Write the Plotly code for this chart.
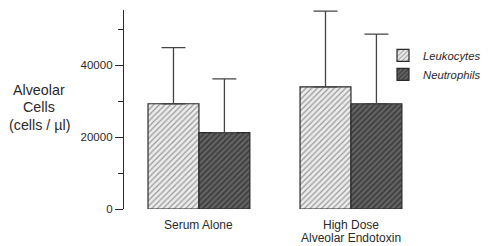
import plotly.graph_objects as go

category_lines = [["Serum Alone"], ["High Dose", "Alveolar Endotoxin"]]
categories = [" ".join(c) for c in category_lines]
leukocytes = [29300, 34000]
leukocytes_err = [15600, 21100]
neutrophils = [21250, 29300]
neutrophils_err = [15000, 19400]
ytick_vals = [0, 20000, 40000]
ytick_text = ["0", "20000", "40000"]
y_title_lines = ["Alveolar", "Cells", "(cells / µl)"]

# the page has an 8px body margin; size the figure so page coords match
OFF = 8
W, H = 489 - OFF, 246 - OFF
ml, mr, mt, mb = 124 - OFF, 0, 10 - OFF, 36.5
pw = W - ml - mr
ph = H - mt - mb
font = "Liberation Sans, Arial, sans-serif"
ink = "#2a2a2a"

fig = go.Figure()
fig.add_trace(go.Bar(
    x=categories, y=leukocytes, name="Leukocytes",
    marker=dict(color="#e8e8e8", line=dict(color=ink, width=1.2),
                pattern=dict(shape="/", fgcolor="#444", bgcolor="#ececec", size=4, solidity=0.3)),
    error_y=dict(type="data", array=leukocytes_err, symmetric=False, arrayminus=[0, 0],
                 color="#444", thickness=1.3, width=12),
))
fig.add_trace(go.Bar(
    x=categories, y=neutrophils, name="Neutrophils",
    marker=dict(color="#3a3a3a", line=dict(color=ink, width=1.2),
                pattern=dict(shape="/", fgcolor="#1a1a1a", bgcolor="#666", size=4, solidity=0.5)),
    error_y=dict(type="data", array=neutrophils_err, symmetric=False, arrayminus=[0, 0],
                 color="#444", thickness=1.3, width=12),
))

def px_to_paper_y(page_y):
    fy = page_y - OFF
    return (H - mb - fy) / ph

def px_to_paper_x(page_x):
    fx = page_x - OFF
    return (fx - ml) / pw

annotations = []
# y-axis title lines
for line, py in zip(y_title_lines, [90, 107.5, 125]):
    annotations.append(dict(text=line, x=px_to_paper_x(39), y=px_to_paper_y(py),
                            xref="paper", yref="paper", showarrow=False,
                            xanchor="center", yanchor="middle",
                            font=dict(size=14.3, color=ink, family=font)))
# category labels
for cat, lines in zip(categories, category_lines):
    for j, line in enumerate(lines):
        annotations.append(dict(text=line, x=cat, xref="x",
                                y=px_to_paper_y(226 + 12.5 * j), yref="paper",
                                showarrow=False, xanchor="center", yanchor="middle",
                                font=dict(size=12, color=ink, family=font)))

fig.update_layout(
    width=W, height=H,
    margin=dict(l=ml, r=mr, t=mt, b=mb, pad=0, autoexpand=False),
    paper_bgcolor="white", plot_bgcolor="white",
    barmode="group", bargap=0.33, bargroupgap=0,
    font=dict(family=font, size=11.5, color=ink),
    showlegend=True,
    legend=dict(x=px_to_paper_x(383), y=px_to_paper_y(41), xanchor="left", yanchor="top",
                font=dict(size=11.3, style="italic", color=ink),
                bgcolor="rgba(0,0,0,0)", itemwidth=30, tracegroupgap=0),
    xaxis=dict(range=[-0.493, 1.908], showline=False, showgrid=False, ticks="",
               showticklabels=False, zeroline=False),
    yaxis=dict(range=[0, 55400], showline=True, linecolor=ink, linewidth=1.3,
               showgrid=False, zeroline=False,
               tickmode="array", tickvals=ytick_vals, ticktext=ytick_text,
               ticks="outside", ticklen=8, tickcolor=ink, tickwidth=1.3,
               tickfont=dict(size=11.5, color=ink),
               minor=dict(dtick=10000, tick0=0, ticks="outside", ticklen=5,
                          tickcolor=ink, tickwidth=1.2)),
    annotations=annotations,
)
fig.write_html("out.html")
